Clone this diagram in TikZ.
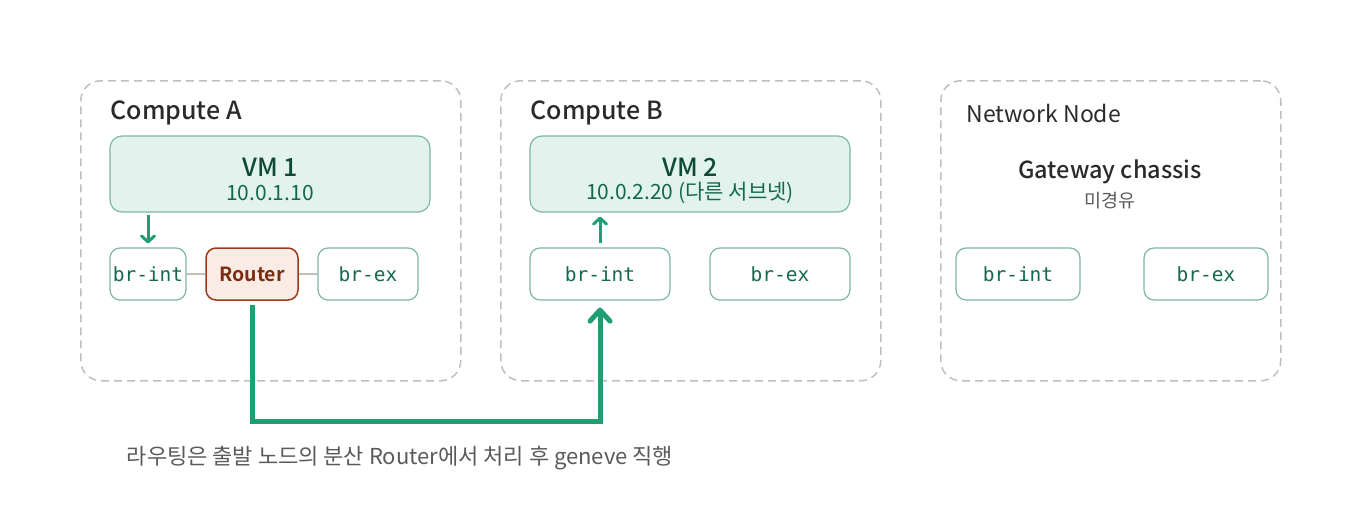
\documentclass[tikz,border=0pt]{standalone}
\usepackage{fontspec}
\setmainfont{Noto Sans CJK KR}[BoldFont={Noto Sans CJK KR Bold}]
\setmonofont{DejaVu Sans Mono}
\newfontfamily\medfont{Noto Sans CJK KR Medium}
\usetikzlibrary{arrows.meta,positioning}

\definecolor{hostline}{HTML}{C2BFB8}
\definecolor{brline}{HTML}{7FB6A6}
\definecolor{brtext}{HTML}{14694D}
\definecolor{vmfill}{HTML}{E1F3EC}
\definecolor{vmtext}{HTML}{0F4A37}
\definecolor{flowgreen}{HTML}{1F9E74}
\definecolor{rtfill}{HTML}{FAEBE5}
\definecolor{rtline}{HTML}{9B3B1C}
\definecolor{rttext}{HTML}{7A2D10}
\definecolor{titletext}{HTML}{2A2A2A}
\definecolor{notetext}{HTML}{5A5A5A}

\begin{document}
\begin{tikzpicture}[x=1pt,y=-1pt,
  host/.style={draw=hostline,line width=1.5pt,dash pattern=on 8pt off 5pt,rounded corners=20pt,anchor=north west,inner sep=0pt},
  host title/.style={anchor=west,text=titletext,font=\medfont\fontsize{25}{28}\selectfont},
  vm node/.style={draw=brline,fill=vmfill,line width=1.2pt,rounded corners=12pt,minimum width=320pt,minimum height=76pt,inner sep=0pt},
  vm name/.style={text=vmtext,font=\medfont\fontsize{25}{26}\selectfont},
  vm ip/.style={text=brtext,font=\fontsize{21}{24}\selectfont},
  br node/.style={draw=brline,fill=white,line width=1.2pt,rounded corners=10pt,minimum height=52pt,inner sep=0pt,text=brtext,font=\ttfamily\fontsize{19.5}{22}\selectfont},
  router node/.style={draw=rtline,fill=rtfill,line width=1.5pt,rounded corners=10pt,minimum width=92pt,minimum height=52pt,inner sep=0pt,text=rttext,font=\bfseries\fontsize{19.5}{22}\selectfont},
  link/.style={draw=hostline,line width=1.5pt},
  flow/.style={->,>={Straight Barb[length=6pt,width=13pt,round]},draw=flowgreen,line width=3pt},
  route/.style={->,>={Straight Barb[length=11pt,width=20pt,round]},draw=flowgreen,line width=5pt}]

  \useasboundingbox (0,0) rectangle (1360,520);

  % hosts
  \node[host,minimum width=380pt,minimum height=300pt] (hostA) at (80,80) {};
  \node[host,minimum width=380pt,minimum height=300pt] (hostB) at (500,80) {};
  \node[host,minimum width=340pt,minimum height=300pt] (hostN) at (940,80) {};
  \node[host title] (titleA) at (107,113) {Compute A};
  \node[host title] (titleB) at (527,113) {Compute B};
  \node[host title,font=\fontsize{23}{26}\selectfont] (titleN) at (963,113) {Network Node};

  % compute A
  \node[vm node] (vm1) at (270,174) {};
  \node[vm name] (vm1name) at (270,167) {VM 1};
  \node[vm ip] (vm1ip) at (270,193) {10.0.1.10};
  \node[br node,minimum width=76pt] (intA) at (148,274) {br-int};
  \node[router node] (router) at (252,274) {Router};
  \node[br node,minimum width=100pt] (exA) at (368,274) {br-ex};

  % compute B
  \node[vm node] (vm2) at (690,174) {};
  \node[vm name] (vm2name) at (690,167) {VM 2};
  \node[vm ip] (vm2ip) at (690,193) {10.0.2.20 (다른 서브넷)};
  \node[br node,minimum width=140pt] (intB) at (600,274) {br-int};
  \node[br node,minimum width=140pt] (exB) at (780,274) {br-ex};

  % network node
  \node[text=titletext,font=\medfont\fontsize{23.5}{26}\selectfont] (gw) at (1110,172) {Gateway chassis};
  \node[text=notetext,font=\fontsize{18.5}{20}\selectfont,below=1pt of gw] (skip) {미경유};
  \node[br node,minimum width=124pt] (intN) at (1018,274) {br-int};
  \node[br node,minimum width=124pt] (exN) at (1206,274) {br-ex};

  \path[link]
       (intA) edge (router)
       (router) edge (exA);

  \draw[flow,shorten <=2pt,shorten >=4pt] (vm1.south -| intA) -- (intA.north);
  \draw[flow,shorten <=4pt,shorten >=4pt] (intB.north) -- (vm2.south -| intB);

  \draw[route,shorten <=4pt,shorten >=7pt] (router.south) -- ++(0,121) -| (intB.south);

  \node[text=notetext,font=\fontsize{22}{24}\selectfont] (note) at (400,458) {라우팅은 출발 노드의 분산 Router에서 처리 후 geneve 직행};
\end{tikzpicture}
\end{document}
